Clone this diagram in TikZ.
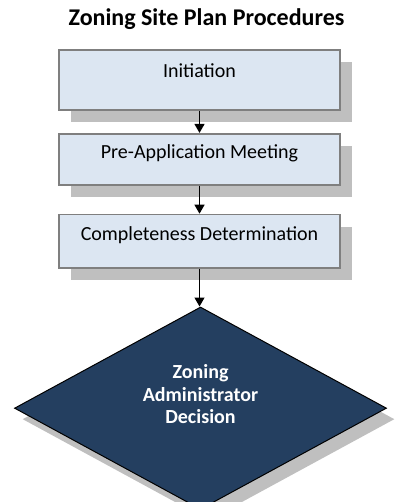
\documentclass[tikz,border=0pt]{standalone}
\usepackage{fontspec}
\setmainfont{Carlito}
\usepackage{tikz}
\usetikzlibrary{arrows.meta,positioning,shapes.geometric,shadows}
\definecolor{zsfill}{HTML}{DCE6F2}
\definecolor{zsedge}{HTML}{7F7F7F}
\definecolor{zsshade}{HTML}{BFBFBF}
\definecolor{zsnavy}{HTML}{243F60}

\begin{document}
\begin{tikzpicture}[x=1pt,y=1pt,
  stepbox/.style={draw=zsedge,line width=1.8pt,fill=zsfill,minimum width=281pt,
    inner xsep=0pt,inner ysep=0pt,font=\fontsize{20}{22}\selectfont,
    drop shadow={shadow xshift=12pt,shadow yshift=-12pt,fill=zsshade,opacity=1}},
  decide/.style={diamond,draw=black,line width=1pt,fill=zsnavy,text=white,
    minimum width=372pt,minimum height=188pt,inner sep=0pt,align=center,
    text depth=28pt,font=\fontsize{20}{22.5}\selectfont\bfseries,
    drop shadow={shadow xshift=8pt,shadow yshift=-11pt,fill=zsshade,opacity=1}},
  arr/.style={-{Triangle[length=9pt,width=10pt]},line width=1.3pt,black}]
  \useasboundingbox (0,0) rectangle (394,-502);
  \node[anchor=base,font=\fontsize{24}{26}\selectfont\bfseries] (title) at (206.5,-25.5)
    {Zoning Site Plan Procedures};
  \node[stepbox,text height=27.7pt,text depth=32.3pt] (init) at (199.5,-80) {Initiation};
  \node[stepbox,text height=24.7pt,text depth=26.3pt,below=22pt of init] (meet)
    {Pre-Application Meeting};
  \node[stepbox,text height=25.7pt,text depth=27.3pt,below=28pt of meet] (check)
    {Completeness Determination};
  \node[decide,below=38pt of check,xshift=1pt] (dec) {Zoning\\Administrator\\Decision};
  \draw[arr] (init) -- (meet);
  \draw[arr] (meet) -- (check);
  \draw[arr] (check.south) -- (check.south |- dec.north);
\end{tikzpicture}
\end{document}
